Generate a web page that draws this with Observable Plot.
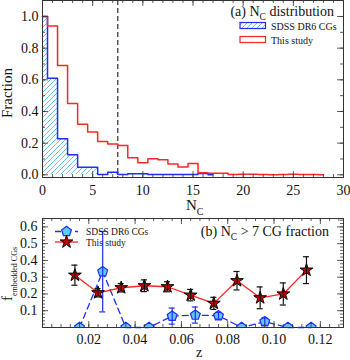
<!DOCTYPE html>
<html><head><meta charset="utf-8">
<script src="https://cdn.jsdelivr.net/npm/d3@7"></script>
<script src="https://cdn.jsdelivr.net/npm/@observablehq/plot@0.6"></script>
<style>
body{margin:0;background:#fff;}
#chart{width:350px;height:360px;position:relative;background:#fff;}
#chart svg{display:block;}
</style></head><body><div id="chart"></div>
<script>
// ---------- Panel (a): N_C distribution ----------
const nc = [0,1,2,3,4,5,6,7,8,9,10,11,12,13,14,15,16,17,18,19,20,21,22,23,24,25,26,27,28];
const sdssFrac = [1.0,0.61,0.227,0.126,0.048,0.048,0.002,0.016,0.002,0.007,0.007,0.002,0.002,0.002,0.002,0.002,0.008,0.0];
const studyFrac = [1.0,0.94,0.69,0.45,0.32,0.27,0.21,0.195,0.185,0.107,0.076,0.101,0.095,0.069,0.05,0.072,0.013,0.01,0.01,0.002,0.004,0.004,0.002,0.0,0.002,0.003,0.002,0.002,0.0];
const ncCut = [7.5];
const ncTicks = [0,5,10,15,20,25,30];
const fracTicks = [0.0,0.2,0.4,0.6,0.8,1.0];

// ---------- Panel (b): N_C > 7 CG fraction ----------
const zStudy = [0.014,0.024,0.034,0.044,0.054,0.064,0.074,0.084,0.094,0.104,0.114];
const fStudy = [0.312,0.207,0.237,0.249,0.243,0.193,0.144,0.279,0.177,0.200,0.342];
const eStudy = [0.060,0.025,0.025,0.035,0.030,0.034,0.036,0.055,0.065,0.066,0.080];
const zSdss = [0.016,0.026,0.036,0.046,0.056,0.066,0.076,0.086,0.096,0.106,0.116];
const fSdss = [0.0,0.333,0.0,0.0,0.068,0.074,0.070,0.0,0.035,0.0,0.0];
const eSdss = [0.0,0.240,0.0,0.0,0.048,0.048,0.020,0.0,0.022,0.0,0.0];
const zTicks = [0.02,0.04,0.06,0.08,0.10,0.12];
const fTicks = [0.1,0.2,0.3,0.4,0.5,0.6];

const FONT = '"Liberation Serif","Times New Roman",serif';
const RED = "#ff2626", BLUE = "#1f2cff", HATCH = "#6cc3e6", STARFILL = "#c80000", PENTFILL = "#62c8f4", INK = "#333";
const W = 350;

const pentagon = {
  draw(ctx, size) {
    const r = Math.sqrt(size / 2.378);
    for (let i = 0; i < 5; i++) {
      const a = -Math.PI / 2 + i * 2 * Math.PI / 5;
      const x = r * Math.cos(a), y = r * Math.sin(a);
      if (i) ctx.lineTo(x, y); else ctx.moveTo(x, y);
    }
    ctx.closePath();
  }
};

function inwardTicks(xs, ys, xMinor, yMinor, fw, fh, major = 6, minor = 3) {
  const s = {stroke: INK, strokeWidth: 0.8};
  return [
    Plot.ruleX(xMinor, {x: d => d, insetTop: fh - minor, ...s}),
    Plot.ruleX(xMinor, {x: d => d, insetBottom: fh - minor, ...s}),
    Plot.ruleX(xs, {x: d => d, insetTop: fh - major, ...s}),
    Plot.ruleX(xs, {x: d => d, insetBottom: fh - major, ...s}),
    Plot.ruleY(yMinor, {y: d => d, insetRight: fw - minor, ...s}),
    Plot.ruleY(yMinor, {y: d => d, insetLeft: fw - minor, ...s}),
    Plot.ruleY(ys, {y: d => d, insetRight: fw - major, ...s}),
    Plot.ruleY(ys, {y: d => d, insetLeft: fw - major, ...s})
  ];
}

const axText = {fontFamily: FONT, fontSize: 14, fill: "#111"};
function tickLabelsX(ticks, fmt, dy) {
  return Plot.text(ticks, {x: d => d, frameAnchor: "bottom", text: fmt, dy, lineAnchor: "middle", textAnchor: "middle", ...axText});
}
function tickLabelsY(ticks, fmt, dx) {
  return Plot.text(ticks, {y: d => d, frameAnchor: "left", text: fmt, dx: -dx, textAnchor: "end", lineAnchor: "middle", ...axText});
}

// ----- top plot -----
const topH = 212, tM = {l: 42, r: 7, t: 0, b: 35};
const tFW = W - tM.l - tM.r, tFH = topH - tM.t - tM.b;
const sdssRows = sdssFrac.map((v, i) => ({n: nc[i], v}));
const studyRows = studyFrac.map((v, i) => ({n: nc[i], v}));

const topPlot = Plot.plot({
  width: W, height: topH,
  marginLeft: tM.l, marginRight: tM.r, marginTop: tM.t, marginBottom: tM.b,
  style: {fontFamily: FONT, fontSize: "14px", color: "#111", background: "white", overflow: "visible"},
  x: {domain: [0, 30], axis: null},
  y: {domain: [-0.017, 1.101], axis: null},
  marks: [
    Plot.areaY(sdssRows, {x: "n", y: "v", curve: "step", fill: "url(#hatch)"}),
    Plot.ruleX(ncCut, {x: d => d, stroke: INK, strokeWidth: 1.2, strokeDasharray: "5,3"}),
    Plot.lineY(sdssRows, {x: "n", y: "v", curve: "step", stroke: BLUE, strokeWidth: 1.5}),
    Plot.lineY(studyRows, {x: "n", y: "v", curve: "step", stroke: RED, strokeWidth: 1.5}),
    ...inwardTicks(ncTicks, fracTicks, d3.range(0, 30.5, 1), d3.range(0, 1.05, 0.1), tFW, tFH),
    tickLabelsX(ncTicks, d => String(d), 13),
    tickLabelsY(fracTicks, d => d3.format(".1f")(d), 4),
    Plot.frame({stroke: INK, strokeWidth: 1})
  ]
});

// ----- bottom plot -----
const botH = 148, bM = {l: 42, r: 7, t: 6, b: 33};
const bFW = W - bM.l - bM.r, bFH = botH - bM.t - bM.b;
const studyPts = zStudy.map((z, i) => ({z, f: fStudy[i], e: eStudy[i]}));
const sdssPts = zSdss.map((z, i) => ({z, f: fSdss[i], e: eSdss[i]}));
const sdssErr = sdssPts.filter(d => d.e > 0);
const CAP = 0.0013;

function errMarks(rows, color) {
  const s = {stroke: color, strokeWidth: 1.2};
  return [
    Plot.ruleX(rows, {x: "z", y1: d => d.f - d.e, y2: d => d.f + d.e, ...s}),
    Plot.ruleY(rows, {y: d => d.f + d.e, x1: d => d.z - CAP, x2: d => d.z + CAP, ...s}),
    Plot.ruleY(rows, {y: d => d.f - d.e, x1: d => d.z - CAP, x2: d => d.z + CAP, ...s})
  ];
}

const botPlot = Plot.plot({
  width: W, height: botH,
  marginLeft: bM.l, marginRight: bM.r, marginTop: bM.t, marginBottom: bM.b,
  style: {fontFamily: FONT, fontSize: "14px", color: "#111", background: "white", overflow: "visible"},
  x: {domain: [0, 0.13], axis: null},
  y: {domain: [0, 0.65], axis: null},
  marks: [
    Plot.line(sdssPts, {x: "z", y: "f", stroke: BLUE, strokeWidth: 1.3, strokeDasharray: "6,4"}),
    Plot.line(studyPts, {x: "z", y: "f", stroke: RED, strokeWidth: 1.3}),
    Plot.dot(sdssPts, {x: "z", y: "f", symbol: pentagon, r: 4.5, fill: PENTFILL, stroke: BLUE, strokeWidth: 1.2, clip: true}),
    ...errMarks(sdssErr, BLUE),
    Plot.dot(studyPts, {x: "z", y: "f", symbol: "star", r: 4, fill: STARFILL, stroke: "#000", strokeWidth: 1}),
    ...errMarks(studyPts, "#111"),
    ...inwardTicks(zTicks, fTicks, d3.range(0, 0.1305, 0.004), d3.range(0, 0.651, 0.02), bFW, bFH),
    tickLabelsX(zTicks, d => d3.format(".2f")(d), 12.5),
    tickLabelsY(fTicks, d => d3.format(".1f")(d), 5),
    Plot.frame({stroke: INK, strokeWidth: 1})
  ]
});

document.getElementById("chart").append(topPlot, botPlot);

// ----- decorations: hatch pattern, labels, legends -----
const ts = d3.select(topPlot);
const defs = ts.insert("defs", ":first-child");
const pat = defs.append("pattern").attr("id", "hatch").attr("patternUnits", "userSpaceOnUse")
  .attr("width", 5).attr("height", 5);
pat.append("path").attr("d", "M-1,1 l2,-2 M0,5 l5,-5 M4,6 l2,-2")
  .attr("stroke", HATCH).attr("stroke-width", 1);

function label(sel, x, y, main, sub, size, subSize, opts = {}) {
  const t = sel.append("text").attr("x", x).attr("y", y)
    .attr("font-family", FONT).attr("font-size", size).attr("fill", "#111")
    .attr("text-anchor", opts.anchor || "start");
  if (opts.rotate) t.attr("transform", `rotate(-90 ${x} ${y})`);
  const parts = Array.isArray(main) ? main : [[main, sub, ""]];
  for (const [a, b, c] of parts) {
    t.append("tspan").text(a);
    if (b) t.append("tspan").attr("font-size", subSize).attr("dy", size * 0.3).text(b);
    if (c) t.append("tspan").attr("dy", b ? -size * 0.3 : 0).text(c);
  }
  return t;
}

// top: y label, x label, panel title
label(ts, 12, 93, "Fraction", null, 15, 0, {rotate: true, anchor: "middle"});
label(ts, 186, 210, "N", "C", 15, 10, {anchor: "start"});
label(ts, 334, 16, [["(a) N", "C", " distribution"]], null, 14, 9.5, {anchor: "end"});
// top legend
const tl = ts.append("g");
tl.append("rect").attr("x", 240).attr("y", 22.5).attr("width", 25.5).attr("height", 6)
  .attr("fill", "url(#hatch)").attr("stroke", BLUE).attr("stroke-width", 1.2);
tl.append("rect").attr("x", 240).attr("y", 36.5).attr("width", 25.5).attr("height", 6)
  .attr("fill", "none").attr("stroke", RED).attr("stroke-width", 1.2);
label(tl, 271, 29.5, "SDSS DR6 CGs", null, 10, 0);
label(tl, 271, 43.5, "This study", null, 10, 0);

// bottom: y label, x label, panel title, legend
const bs = d3.select(botPlot);
label(bs, 12, 62, [["f", "embedded CGs", ""]], null, 15, 8, {rotate: true, anchor: "middle"});
label(bs, 199, 144.5, "z", null, 14, 0, {anchor: "middle"});
label(bs, 329, 24, [["(b) N", "C", " > 7 CG fraction"]], null, 14, 9.5, {anchor: "end"});
const bl = bs.append("g");
bl.append("line").attr("x1", 55).attr("x2", 78).attr("y1", 19.5).attr("y2", 19.5)
  .attr("stroke", BLUE).attr("stroke-width", 1.3).attr("stroke-dasharray", "6,4");
bl.append("path").attr("d", d3.symbol(pentagon, Math.PI * 4.5 * 4.5)())
  .attr("transform", "translate(66.5,19.5)").attr("fill", PENTFILL).attr("stroke", BLUE).attr("stroke-width", 1.2);
bl.append("line").attr("x1", 55).attr("x2", 78).attr("y1", 30).attr("y2", 30)
  .attr("stroke", RED).attr("stroke-width", 1.3);
bl.append("path").attr("d", d3.symbol(d3.symbolStar, Math.PI * 16)())
  .attr("transform", "translate(66.5,30)").attr("fill", STARFILL).attr("stroke", "#000").attr("stroke-width", 1);
label(bl, 86, 23, "SDSS DR6 CGs", null, 9.5, 0);
label(bl, 86, 33.5, "This study", null, 9.5, 0);
</script>
</body></html>
